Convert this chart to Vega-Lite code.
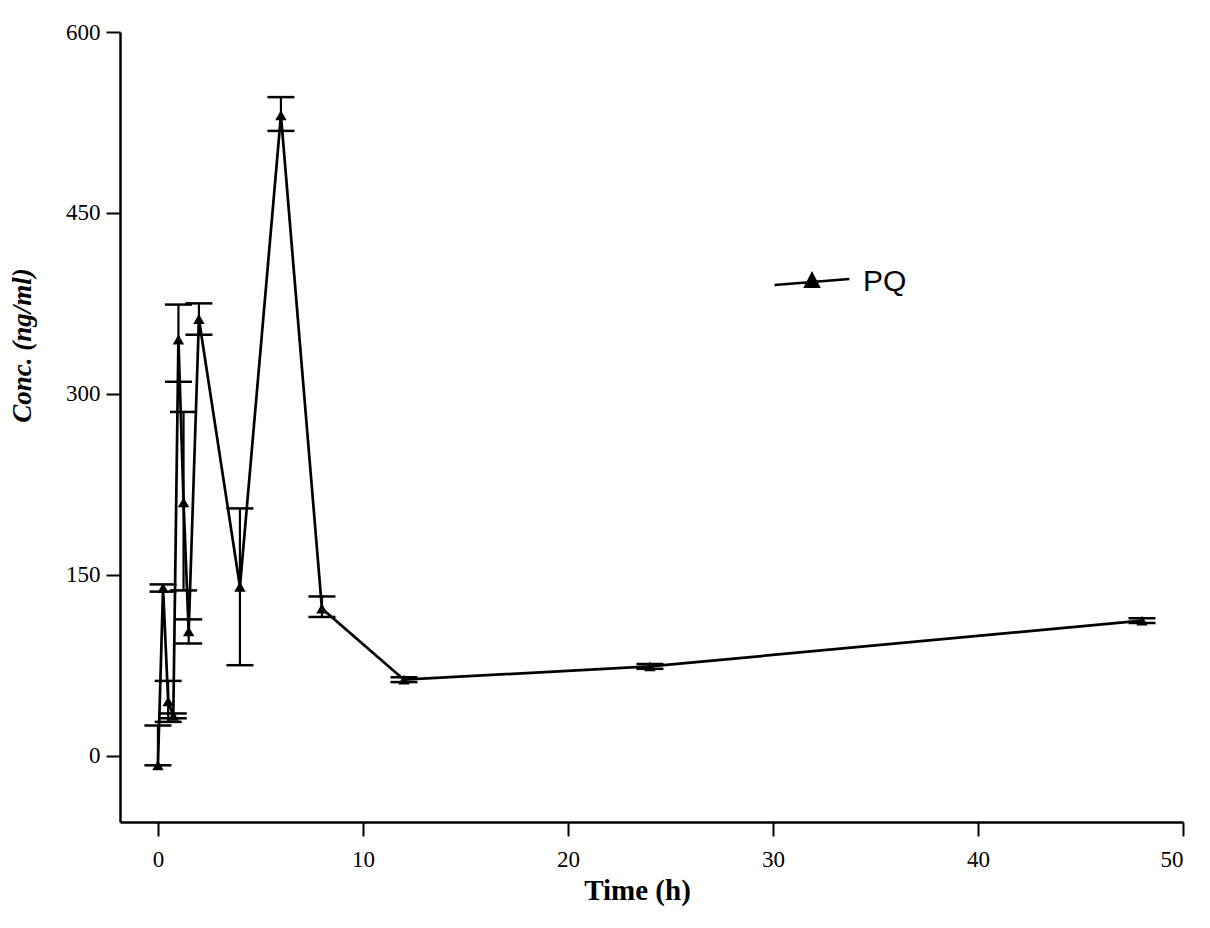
{
  "$schema": "https://vega.github.io/schema/vega-lite/v6.json",
  "autosize": {"type": "none"},
  "width": 1063,
  "height": 790,
  "padding": {"left": 120, "top": 32, "right": 27, "bottom": 106},
  "background": "white",
  "config": {
    "view": {"stroke": null},
    "axis": {
      "grid": false,
      "domainColor": "black",
      "domainWidth": 2.5,
      "tickColor": "black",
      "tickWidth": 2,
      "tickSize": 14,
      "labelFont": "Liberation Serif",
      "labelFontSize": 23,
      "labelColor": "black",
      "titleFont": "Liberation Serif",
      "titleColor": "black"
    }
  },
  "data": {
    "values": [
      {"time": 0, "conc": -8, "lo": -8, "hi": 25},
      {"time": 0.25, "conc": 139, "lo": 136, "hi": 142},
      {"time": 0.5, "conc": 45, "lo": 28, "hi": 62},
      {"time": 0.75, "conc": 33, "lo": 31, "hi": 35},
      {"time": 1, "conc": 345, "lo": 310, "hi": 374},
      {"time": 1.25, "conc": 210, "lo": 137, "hi": 285},
      {"time": 1.5, "conc": 103, "lo": 93, "hi": 113},
      {"time": 2, "conc": 362, "lo": 349, "hi": 375},
      {"time": 4, "conc": 140, "lo": 75, "hi": 205},
      {"time": 6, "conc": 531, "lo": 518, "hi": 546},
      {"time": 8, "conc": 122, "lo": 115, "hi": 132},
      {"time": 12, "conc": 63, "lo": 61, "hi": 65},
      {"time": 24, "conc": 74, "lo": 72, "hi": 76},
      {"time": 48, "conc": 112, "lo": 110, "hi": 114}
    ]
  },
  "encoding": {
    "x": {
      "field": "time",
      "type": "quantitative",
      "scale": {"domain": [-1.85, 50], "nice": false, "zero": false},
      "axis": {
        "values": [0, 10, 20, 30, 40, 50],
        "title": "Time (h)",
        "titleFontSize": 29,
        "titleFontWeight": "bold",
        "titleX": 517,
        "titleY": 68,
        "titleBaseline": "middle",
        "labelPadding": 12
      }
    },
    "y": {
      "field": "conc",
      "type": "quantitative",
      "scale": {"domain": [-55, 600], "nice": false, "zero": false},
      "axis": {
        "values": [0, 150, 300, 450, 600],
        "title": "Conc. (ng/ml)",
        "titleFontSize": 27,
        "titleFontWeight": "bold",
        "titleFontStyle": "italic",
        "titleX": -98,
        "titleY": 313,
        "titleAngle": -90,
        "titleBaseline": "middle",
        "titleAlign": "center",
        "labelPadding": 6
      }
    }
  },
  "layer": [
    {
      "mark": {"type": "rule", "color": "black", "strokeWidth": 2.2},
      "encoding": {"y": {"field": "lo", "type": "quantitative"}, "y2": {"field": "hi"}}
    },
    {
      "mark": {"type": "tick", "orient": "horizontal", "color": "black", "opacity": 1, "size": 27, "thickness": 2.5},
      "encoding": {"y": {"field": "lo", "type": "quantitative"}}
    },
    {
      "mark": {"type": "tick", "orient": "horizontal", "color": "black", "opacity": 1, "size": 27, "thickness": 2.5},
      "encoding": {"y": {"field": "hi", "type": "quantitative"}}
    },
    {
      "mark": {
        "type": "line",
        "strokeWidth": 2.7,
        "point": {"shape": "triangle-up", "size": 130, "filled": true, "opacity": 1}
      },
      "encoding": {
        "color": {
          "datum": "PQ",
          "scale": {"range": ["black"]},
          "legend": {
            "orient": "none",
            "legendX": 653,
            "legendY": 211,
            "title": null,
            "symbolType": "M-1,0.08L1,-0.08M-0.18,0.13L0,-0.22L0.18,0.13Z",
            "symbolSize": 5600,
            "symbolStrokeWidth": 2.5,
            "symbolFillColor": "black",
            "symbolStrokeColor": "black",
            "labelFont": "Liberation Sans",
            "labelFontSize": 30,
            "labelOffset": 12,
            "labelColor": "black"
          }
        }
      }
    }
  ]
}
